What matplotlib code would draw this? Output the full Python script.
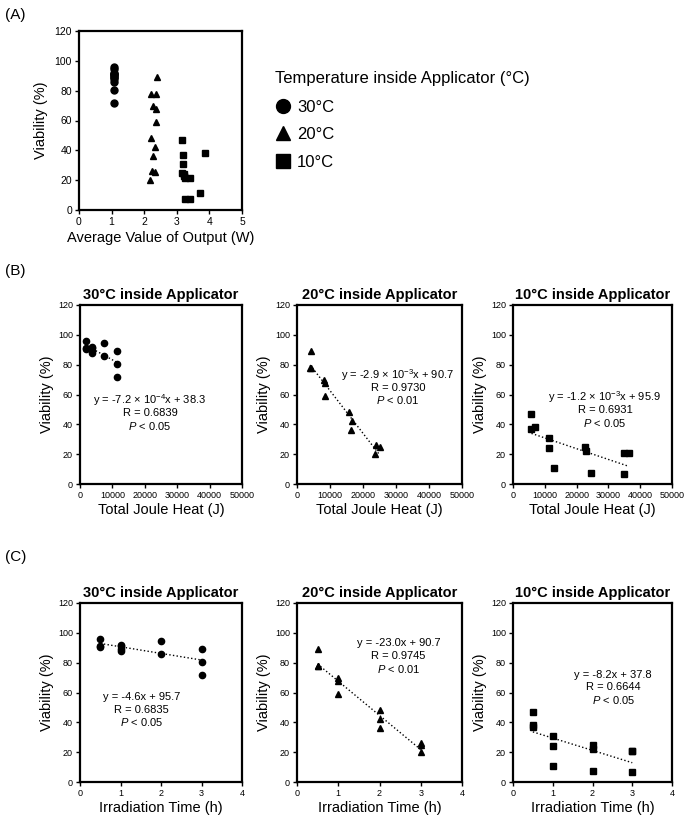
import numpy as np
import matplotlib
matplotlib.use("Agg")
import matplotlib.pyplot as plt
from matplotlib.lines import Line2D

plt.rcParams['font.family'] = ['Liberation Sans', 'DejaVu Sans']
plt.rcParams['mathtext.fontset'] = 'custom'
plt.rcParams['mathtext.rm'] = 'Liberation Sans'
plt.rcParams['mathtext.it'] = 'Liberation Sans:italic'

# ---------------- data ----------------
# Panel A: average output (W) vs viability (%)
a30_w = [1.07, 1.07, 1.06, 1.08, 1.07, 1.06, 1.08, 1.07, 1.06, 1.08, 1.07, 1.07]
a30_v = [96, 91, 90.5, 92, 91, 89, 88, 94.5, 86, 89, 80.5, 71.5]
a20_w = [2.40, 2.22, 2.37, 2.28, 2.37, 2.35, 2.22, 2.33, 2.27, 2.23, 2.33, 2.19]
a20_v = [89, 78, 78, 70, 68, 59, 48, 42, 36, 26, 25.5, 20]
a10_w = [3.15, 3.20, 3.85, 3.18, 3.15, 3.70, 3.21, 3.25, 3.42, 3.42, 3.25, 3.22]
a10_v = [47, 37, 38.5, 31, 25, 11.5, 23, 21.5, 21.5, 7.5, 7.5, 24]

# Panel B: total joule heat (J) vs viability (%)
b30_j = [1900, 1900, 1900, 3800, 3800, 3800, 3800, 7400, 7400, 11300, 11300, 11300]
b30_v = [96, 91, 90.5, 92, 91, 89, 88, 94.5, 86, 89, 80.5, 71.5]
b20_j = [4300, 4000, 4200, 8100, 8400, 8500, 15900, 16800, 16300, 24000, 25000, 23700]
b20_v = [89, 78, 78, 70, 68, 59, 48, 42, 36, 26, 25, 20]
b10_j = [5800, 5800, 6800, 11300, 11200, 13000, 22500, 22800, 24500, 34800, 34800, 36500]
b10_v = [47, 37, 38.5, 31, 24, 11, 24.5, 22, 7.5, 21, 7, 21]

# Panel C: irradiation time (h) vs viability (%)
c30_t = [0.5, 0.5, 0.5, 1, 1, 1, 1, 2, 2, 3, 3, 3]
c30_v = [96, 91, 90.5, 92, 91, 89, 88, 94.5, 86, 89, 80.5, 71.5]
c20_t = [0.5, 0.5, 0.5, 1, 1, 1, 2, 2, 2, 3, 3, 3]
c20_v = [89, 78, 78, 70, 68, 59, 48, 42, 36, 26, 25, 20]
c10_t = [0.5, 0.5, 0.5, 1, 1, 1, 2, 2, 2, 3, 3, 3]
c10_v = [47, 38.5, 37, 31, 24, 11, 24.5, 22, 7.5, 21, 21, 7]

titles = ["30°C inside Applicator", "20°C inside Applicator", "10°C inside Applicator"]
legend_labels = ["30°C", "20°C", "10°C"]
markers = ["o", "^", "s"]

b_eq = ["y = -7.2 × 10$^{-4}$x + 38.3", "y = -2.9 × 10$^{-3}$x + 90.7", "y = -1.2 × 10$^{-3}$x + 95.9"]
b_r = ["R = 0.6839", "R = 0.9730", "R = 0.6931"]
b_p = ["$P$ < 0.05", "$P$ < 0.01", "$P$ < 0.05"]
c_eq = ["y = -4.6x + 95.7", "y = -23.0x + 90.7", "y = -8.2x + 37.8"]
c_r = ["R = 0.6835", "R = 0.9745", "R = 0.6644"]
c_p = ["$P$ < 0.05", "$P$ < 0.01", "$P$ < 0.05"]

# text anchor positions (data coords)
b_txt = [(21600, 56), (30600, 73), (28900, 58)]
c_txt = [(1.52, 57), (2.46, 93), (2.52, 72)]

W, H = 685, 816
fig = plt.figure(figsize=(W / 100, H / 100), dpi=100)


def px_axes(l, r, t, b):
    return fig.add_axes([l / W, 1 - b / H, (r - l) / W, (b - t) / H])


def style(ax, xlim, xticks, tick_fs=7):
    ax.set_xlim(*xlim)
    ax.set_ylim(0, 120)
    ax.set_xticks(xticks)
    ax.set_yticks(range(0, 121, 20))
    ax.tick_params(direction='out', length=3, width=1, labelsize=tick_fs, pad=2)
    for s in ax.spines.values():
        s.set_linewidth(1.6)
        s.set_color('black')


# ---------------- Panel A ----------------
axA = px_axes(79, 242, 31, 210)
for xs, vs, m, lab in zip([a30_w, a20_w, a10_w], [a30_v, a20_v, a10_v], markers, legend_labels):
    axA.plot(xs, vs, linestyle='none', marker=m, color='black', markersize=5, label=lab)
style(axA, (0, 5), range(0, 6), tick_fs=7.5)
axA.set_ylabel("Viability (%)", fontsize=10.5, labelpad=5)
axA.set_xlabel("Average Value of Output (W)", fontsize=10.5, labelpad=3)

handles = [Line2D([], [], linestyle='none', marker=m, color='black', markersize=10) for m in markers]
leg = fig.legend(handles, legend_labels, title="Temperature inside Applicator (°C)",
                 loc='upper left', bbox_to_anchor=(268 / W, 1 - 64 / H), frameon=False,
                 fontsize=12, title_fontsize=12, handletextpad=0.35, labelspacing=0.75,
                 handlelength=1.0, borderaxespad=0)
leg._legend_box.align = "left"
leg._legend_box.sep = 10

fig.text(5 / W, 1 - 15 / H, "(A)", fontsize=11, va='center', ha='left')
fig.text(5 / W, 1 - 271 / H, "(B)", fontsize=11, va='center', ha='left')
fig.text(5 / W, 1 - 557 / H, "(C)", fontsize=11, va='center', ha='left')

# ---------------- Panels B and C ----------------
b_cols = [(80, 242), (297, 462), (513, 672)]
b_data = [(b30_j, b30_v), (b20_j, b20_v), (b10_j, b10_v)]
c_data = [(c30_t, c30_v), (c20_t, c20_v), (c10_t, c10_v)]

for i, (l, r) in enumerate(b_cols):
    # panel B
    ax = px_axes(l, r, 305, 484)
    xs, vs = np.array(b_data[i][0]), np.array(b_data[i][1])
    ax.plot(xs, vs, linestyle='none', marker=markers[i], color='black', markersize=4.5)
    k, c0 = np.polyfit(xs, vs, 1)
    xl = np.array([xs.min(), xs.max()])
    ax.plot(xl, k * xl + c0, linestyle=':', color='black', linewidth=1)
    style(ax, (0, 50000), range(0, 50001, 10000), tick_fs=6.5)
    ax.set_title(titles[i], fontsize=10.5, fontweight='bold', pad=4)
    ax.set_ylabel("Viability (%)", fontsize=10.5, labelpad=3)
    ax.set_xlabel("Total Joule Heat (J)", fontsize=10.5, labelpad=2)
    tx, ty = b_txt[i]
    for j, s in enumerate([b_eq[i], b_r[i], b_p[i]]):
        ax.text(tx, ty - j * 8.5, s, fontsize=8, ha='center', va='center')

    # panel C
    ax = px_axes(l, r, 603, 782)
    xs, vs = np.array(c_data[i][0]), np.array(c_data[i][1])
    ax.plot(xs, vs, linestyle='none', marker=markers[i], color='black', markersize=4.5)
    k, c0 = np.polyfit(xs, vs, 1)
    xl = np.array([xs.min(), xs.max()])
    ax.plot(xl, k * xl + c0, linestyle=':', color='black', linewidth=1)
    style(ax, (0, 4), range(0, 5), tick_fs=6.5)
    ax.set_title(titles[i], fontsize=10.5, fontweight='bold', pad=4)
    ax.set_ylabel("Viability (%)", fontsize=10.5, labelpad=3)
    ax.set_xlabel("Irradiation Time (h)", fontsize=10.5, labelpad=2)
    tx, ty = c_txt[i]
    for j, s in enumerate([c_eq[i], c_r[i], c_p[i]]):
        ax.text(tx, ty - j * 8.5, s, fontsize=8, ha='center', va='center')

fig.savefig("out.png", dpi=100)
